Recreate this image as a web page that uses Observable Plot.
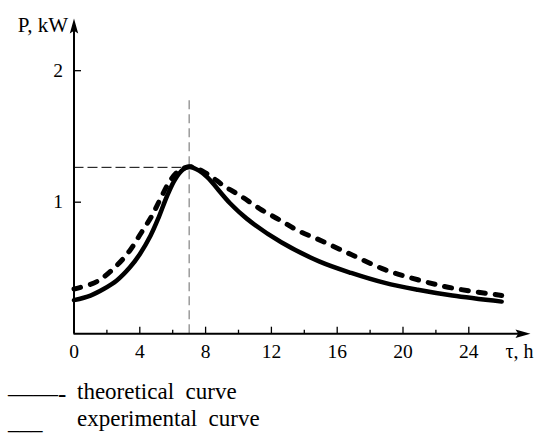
<!DOCTYPE html>
<html>
<head>
<meta charset="utf-8">
<script src="https://cdn.jsdelivr.net/npm/d3@7"></script>
<script src="https://cdn.jsdelivr.net/npm/@observablehq/plot@0.6"></script>
<style>
  html, body { margin: 0; padding: 0; background: #fff; }
  #wrap { position: relative; width: 543px; height: 436px; font-family: "Liberation Serif", "Times New Roman", Times, Tinos, "Noto Serif", "DejaVu Serif", FreeSerif, serif; color: #000; }
  .lg { position: absolute; font-size: 23px; line-height: 1; white-space: pre; }
  .sym { position: absolute; font-size: 25px; line-height: 1; white-space: pre; }
</style>
</head>
<body>
<div id="wrap">
  <div id="chart"></div>
  <div class="sym" style="left:8px; top:381px;">——-</div>
  <div class="lg" style="left:77px; top:379.5px;">theoretical  curve</div>
  <div class="lg" style="left:8px; top:410px;">___</div>
  <div class="lg" style="left:77px; top:407px;">experimental  curve</div>
</div>
<script>
// Theoretical curve (solid)
const theoryX = [0, 1.0, 1.8, 2.6, 3.4, 4.0, 4.65, 5.15, 5.65, 6.15, 6.65, 7.0, 7.6, 8.1, 9.5, 10.5, 12.6, 14.9, 16.85, 18.9, 20.9, 23.0, 26.0];
const theoryY = [0.255, 0.29, 0.34, 0.405, 0.505, 0.605, 0.745, 0.885, 1.045, 1.175, 1.25, 1.27, 1.24, 1.19, 0.99, 0.875, 0.695, 0.55, 0.462, 0.386, 0.334, 0.29, 0.244];
// Experimental curve (dashed)
const expX = [0, 1.4, 2.6, 3.4, 4.05, 4.75, 5.25, 5.85, 6.4, 7.1, 8.1, 9.1, 10.1, 11.3, 12.5, 13.6, 14.8, 16.85, 18.9, 20.9, 23.0, 26.0];
const expY = [0.34, 0.397, 0.519, 0.633, 0.76, 0.9, 1.025, 1.165, 1.24, 1.27, 1.215, 1.125, 1.05, 0.95, 0.865, 0.785, 0.72, 0.602, 0.487, 0.41, 0.347, 0.291];

// Peak guide lines
const peakX = 7;
const peakY = 1.265;
const guideTop = 1.773;

// Axes
const xMajorTicks = [0, 4, 8, 12, 16, 20, 24];
const xMinorTicks = [2, 6, 10, 14, 18, 22];
const yTicks = [1, 2];
const xArrowTip = 27.75;
const yArrowTip = 2.397;
const xLabel = "τ, h";
const yLabel = "P, kW";

const theory = theoryX.map((x, i) => ({x, y: theoryY[i]}));
const experiment = expX.map((x, i) => ({x, y: expY[i]}));

const arrowHead = {
  draw(ctx, size) {
    const r = Math.sqrt(size / Math.PI);
    ctx.moveTo(0, 0);
    ctx.lineTo(r * 0.28, r);
    ctx.lineTo(0, r * 0.82);
    ctx.lineTo(-r * 0.28, r);
    ctx.closePath();
  }
};
const tickLine = {
  draw(ctx, size) {
    const r = Math.sqrt(size / Math.PI);
    ctx.moveTo(0, 0);
    ctx.lineTo(0, -r);
  }
};

const FONT = '"Liberation Serif", "Times New Roman", Times, Tinos, "Noto Serif", "DejaVu Serif", FreeSerif, serif';

const chart = Plot.plot({
  width: 543,
  height: 370,
  marginLeft: 73.5,
  marginRight: 8.9,
  marginTop: 11,
  marginBottom: 36.8,
  x: {domain: [0, 28], axis: null},
  y: {domain: [0, 2.45], axis: null},
  style: {fontFamily: FONT, background: "white", overflow: "visible"},
  marks: [
    // guide lines
    Plot.ruleX([peakX], {y1: 0, y2: guideTop, stroke: "#777", strokeWidth: 1.1, strokeDasharray: "9,5"}),
    Plot.ruleY([peakY], {x1: 0, x2: peakX, stroke: "#000", strokeWidth: 1, strokeDasharray: "10,4"}),
    // axes lines
    Plot.ruleY([0], {x1: 0, x2: d => xArrowTip - 0.5, stroke: "#000", strokeWidth: 2}),
    Plot.ruleX([0], {y1: 0, y2: d => yArrowTip - 0.06, stroke: "#000", strokeWidth: 2}),
    Plot.dot([xArrowTip], {x: d => d, y: 0, symbol: arrowHead, r: 15, rotate: 90, fill: "#000", stroke: "none"}),
    Plot.dot([yArrowTip], {x: 0, y: d => d, symbol: arrowHead, r: 15, rotate: 0, fill: "#000", stroke: "none"}),
    // ticks
    Plot.dot(xMajorTicks, {x: d => d, y: 0, symbol: tickLine, r: 7, fill: "none", stroke: "#000", strokeWidth: 1.3}),
    Plot.dot(xMinorTicks, {x: d => d, y: 0, symbol: tickLine, r: 4, fill: "none", stroke: "#000", strokeWidth: 1.3}),
    Plot.dot(yTicks, {x: 0, y: d => d, symbol: tickLine, r: 7, rotate: 90, fill: "none", stroke: "#000", strokeWidth: 1.3}),
    // tick labels
    Plot.text(xMajorTicks, {x: d => d, y: 0, text: d => String(d), dy: 18, fontSize: 19.5, fill: "#000", fontFamily: FONT}),
    Plot.text(yTicks, {x: 0, y: d => d, text: d => String(d), dx: -11, textAnchor: "end", fontSize: 19.5, fill: "#000", fontFamily: FONT}),
    // axis labels
    Plot.text([xLabel], {x: xArrowTip, y: 0, text: d => d, textAnchor: "start", dx: -25, dy: 18, fontSize: 20, fill: "#000", fontFamily: FONT}),
    Plot.text([yLabel], {x: 0, y: yArrowTip, text: d => d, textAnchor: "end", dx: -6, dy: 7, fontSize: 21, fill: "#000", fontFamily: FONT}),
    // curves
    Plot.line(experiment, {x: "x", y: "y", curve: "catmull-rom", stroke: "#000", strokeWidth: 5, strokeDasharray: "7,10", strokeLinecap: "round"}),
    Plot.line(theory, {x: "x", y: "y", curve: "catmull-rom", stroke: "#000", strokeWidth: 4.5})
  ]
});
document.getElementById("chart").appendChild(chart);
</script>
</body>
</html>
